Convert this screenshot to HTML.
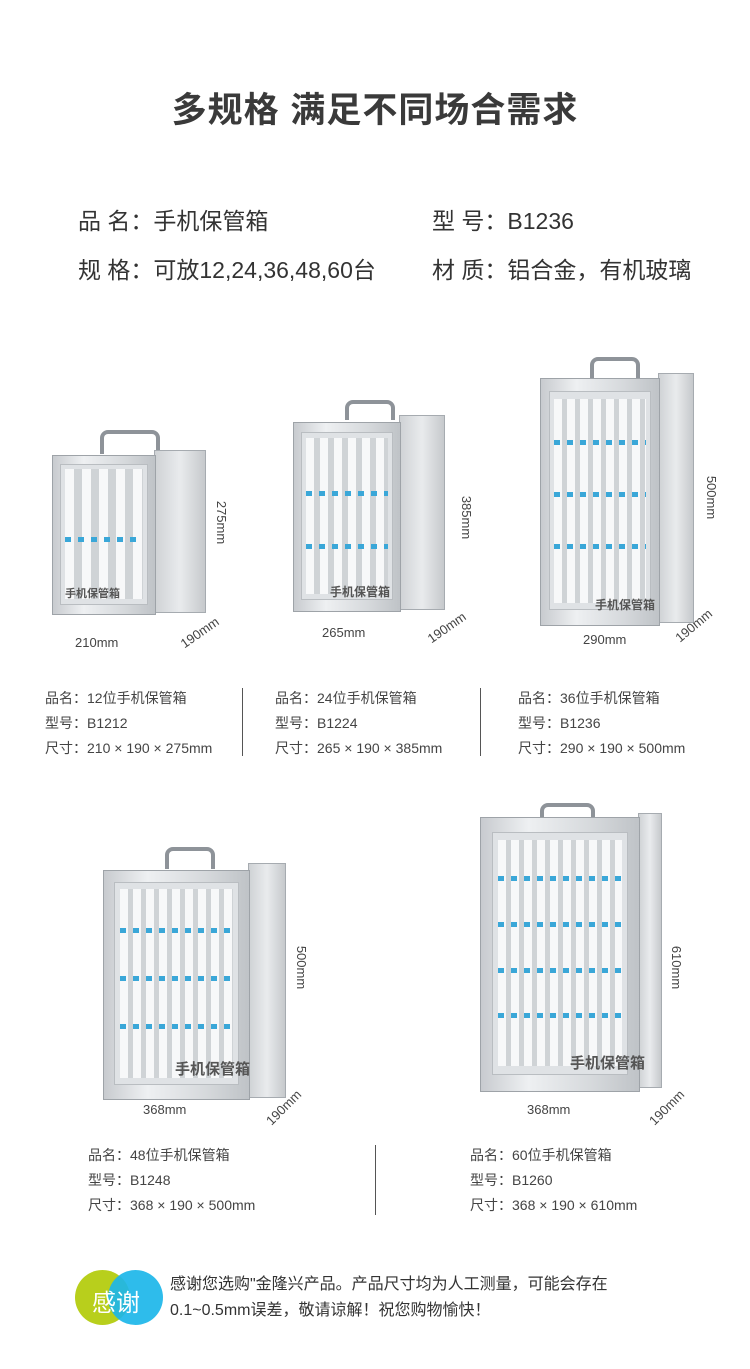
<!DOCTYPE html>
<html><head><meta charset="utf-8"><style>
body{margin:0;width:750px;height:1369px;background:#fff;position:relative;overflow:hidden;font-family:"Liberation Sans","Noto Sans CJK SC",sans-serif;color:#333}
.a{position:absolute;white-space:nowrap}
.front{position:absolute;background:linear-gradient(90deg,#c8cbcf,#eef0f2 30%,#d6d9dc 70%,#bfc3c7);border:1px solid #9ea3a8;box-sizing:border-box}
.glass{position:absolute;left:7%;right:7%;top:5%;bottom:6%;background:#dfe2e5;border:1px solid #b9bdc1;box-sizing:border-box;overflow:hidden}
.slots{position:absolute;left:4%;right:4%;top:3%;bottom:3%}
.tags{position:absolute;left:4%;right:4%;height:5px;background:repeating-linear-gradient(90deg,#3aa7d8 0 6px,transparent 6px 13px)}
.side{position:absolute;background:linear-gradient(90deg,#cfd2d5,#e9ebed 50%,#c6c9cc);border:1px solid #a6abb0;box-sizing:border-box}
.handle{position:absolute;border:4px solid #8e9399;border-bottom:none;border-radius:8px 8px 0 0;box-sizing:border-box}
.lbl{position:absolute;font-size:12px;color:#555;font-weight:bold}
.dim{position:absolute;font-size:13px;color:#444}
.cap{position:absolute;font-size:14px;color:#444;line-height:25px}
.vl{position:absolute;width:1px;background:#555}
</style></head><body>
<div class="a" style="left:0;width:750px;text-align:center;top:82px;font-size:35px;font-weight:bold;color:#3a3a3a;letter-spacing:1px">多规格 满足不同场合需求</div>
<div class="a" style="left:78px;top:202px;font-size:23px;color:#333">品 名：手机保管箱</div>
<div class="a" style="left:432px;top:202px;font-size:23px;color:#333">型 号：B1236</div>
<div class="a" style="left:78px;top:251px;font-size:23px;color:#333">规 格：可放12,24,36,48,60台</div>
<div class="a" style="left:432px;top:251px;font-size:23px;color:#333">材 质：铝合金，有机玻璃</div>

<!-- box1 -->
<div class="handle" style="left:100px;top:430px;width:60px;height:24px"></div>
<div class="side" style="left:154px;top:450px;width:52px;height:163px"></div>
<div class="front" style="left:52px;top:455px;width:104px;height:160px"><div class="glass"><div class="slots" style="background:repeating-linear-gradient(90deg,#f7f8f9 0 9px,#cfd3d6 9px 17px)"></div><div class="tags" style="top:52%"></div></div></div>
<div class="lbl" style="left:65px;top:585px;font-size:11px">手机保管箱</div>
<div class="dim" style="left:75px;top:635px">210mm</div>
<div class="dim" style="left:200px;top:515px;transform:rotate(90deg)">275mm</div>
<div class="dim" style="left:178px;top:625px;transform:rotate(-35deg)">190mm</div>

<!-- box2 -->
<div class="handle" style="left:345px;top:400px;width:50px;height:20px"></div>
<div class="side" style="left:399px;top:415px;width:46px;height:195px"></div>
<div class="front" style="left:293px;top:422px;width:108px;height:190px"><div class="glass"><div class="slots" style="background:repeating-linear-gradient(90deg,#f7f8f9 0 8px,#cfd3d6 8px 14px)"></div><div class="tags" style="top:35%"></div><div class="tags" style="top:67%"></div></div></div>
<div class="lbl" style="left:330px;top:583px">手机保管箱</div>
<div class="dim" style="left:322px;top:625px">265mm</div>
<div class="dim" style="left:445px;top:510px;transform:rotate(90deg)">385mm</div>
<div class="dim" style="left:425px;top:620px;transform:rotate(-35deg)">190mm</div>

<!-- box3 -->
<div class="handle" style="left:590px;top:357px;width:50px;height:22px"></div>
<div class="side" style="left:658px;top:373px;width:36px;height:250px"></div>
<div class="front" style="left:540px;top:378px;width:120px;height:248px"><div class="glass"><div class="slots" style="background:repeating-linear-gradient(90deg,#f7f8f9 0 8px,#cfd3d6 8px 13px)"></div><div class="tags" style="top:22%"></div><div class="tags" style="top:46%"></div><div class="tags" style="top:70%"></div></div></div>
<div class="lbl" style="left:595px;top:596px">手机保管箱</div>
<div class="dim" style="left:583px;top:632px">290mm</div>
<div class="dim" style="left:690px;top:490px;transform:rotate(90deg)">500mm</div>
<div class="dim" style="left:672px;top:618px;transform:rotate(-40deg)">190mm</div>

<div class="cap" style="left:45px;top:686px">品名：12位手机保管箱<br>型号：B1212<br>尺寸：210 × 190 × 275mm</div>
<div class="vl" style="left:242px;top:688px;height:68px"></div>
<div class="cap" style="left:275px;top:686px">品名：24位手机保管箱<br>型号：B1224<br>尺寸：265 × 190 × 385mm</div>
<div class="vl" style="left:480px;top:688px;height:68px"></div>
<div class="cap" style="left:518px;top:686px">品名：36位手机保管箱<br>型号：B1236<br>尺寸：290 × 190 × 500mm</div>

<!-- box4 -->
<div class="handle" style="left:165px;top:847px;width:50px;height:22px"></div>
<div class="side" style="left:248px;top:863px;width:38px;height:235px"></div>
<div class="front" style="left:103px;top:870px;width:147px;height:230px"><div class="glass"><div class="slots" style="background:repeating-linear-gradient(90deg,#f7f8f9 0 8px,#cfd3d6 8px 13px)"></div><div class="tags" style="top:22%"></div><div class="tags" style="top:46%"></div><div class="tags" style="top:70%"></div></div></div>
<div class="lbl" style="left:175px;top:1058px;font-size:15px">手机保管箱</div>
<div class="dim" style="left:143px;top:1102px">368mm</div>
<div class="dim" style="left:280px;top:960px;transform:rotate(90deg)">500mm</div>
<div class="dim" style="left:262px;top:1100px;transform:rotate(-45deg)">190mm</div>

<!-- box5 -->
<div class="handle" style="left:540px;top:803px;width:55px;height:22px"></div>
<div class="side" style="left:638px;top:813px;width:24px;height:275px"></div>
<div class="front" style="left:480px;top:817px;width:160px;height:275px"><div class="glass"><div class="slots" style="background:repeating-linear-gradient(90deg,#f7f8f9 0 8px,#cfd3d6 8px 13px)"></div><div class="tags" style="top:18%"></div><div class="tags" style="top:37%"></div><div class="tags" style="top:56%"></div><div class="tags" style="top:75%"></div></div></div>
<div class="lbl" style="left:570px;top:1052px;font-size:15px">手机保管箱</div>
<div class="dim" style="left:527px;top:1102px">368mm</div>
<div class="dim" style="left:655px;top:960px;transform:rotate(90deg)">610mm</div>
<div class="dim" style="left:645px;top:1100px;transform:rotate(-45deg)">190mm</div>

<div class="cap" style="left:88px;top:1143px">品名：48位手机保管箱<br>型号：B1248<br>尺寸：368 × 190 × 500mm</div>
<div class="vl" style="left:375px;top:1145px;height:70px"></div>
<div class="cap" style="left:470px;top:1143px">品名：60位手机保管箱<br>型号：B1260<br>尺寸：368 × 190 × 610mm</div>

<!-- footer -->
<div style="position:absolute;left:75px;top:1270px;width:55px;height:55px;border-radius:50%;background:#b8cf1c"></div>
<div style="position:absolute;left:108px;top:1270px;width:55px;height:55px;border-radius:50%;background:#1cb6e9;opacity:.92"></div>
<div class="a" style="left:92px;top:1283px;font-size:24px;color:#fff">感谢</div>
<div class="a" style="left:170px;top:1272px;font-size:16px;color:#333;line-height:26px">感谢您选购"金隆兴产品。产品尺寸均为人工测量，可能会存在<br>0.1~0.5mm误差，敬请谅解！祝您购物愉快！</div>
</body></html>
